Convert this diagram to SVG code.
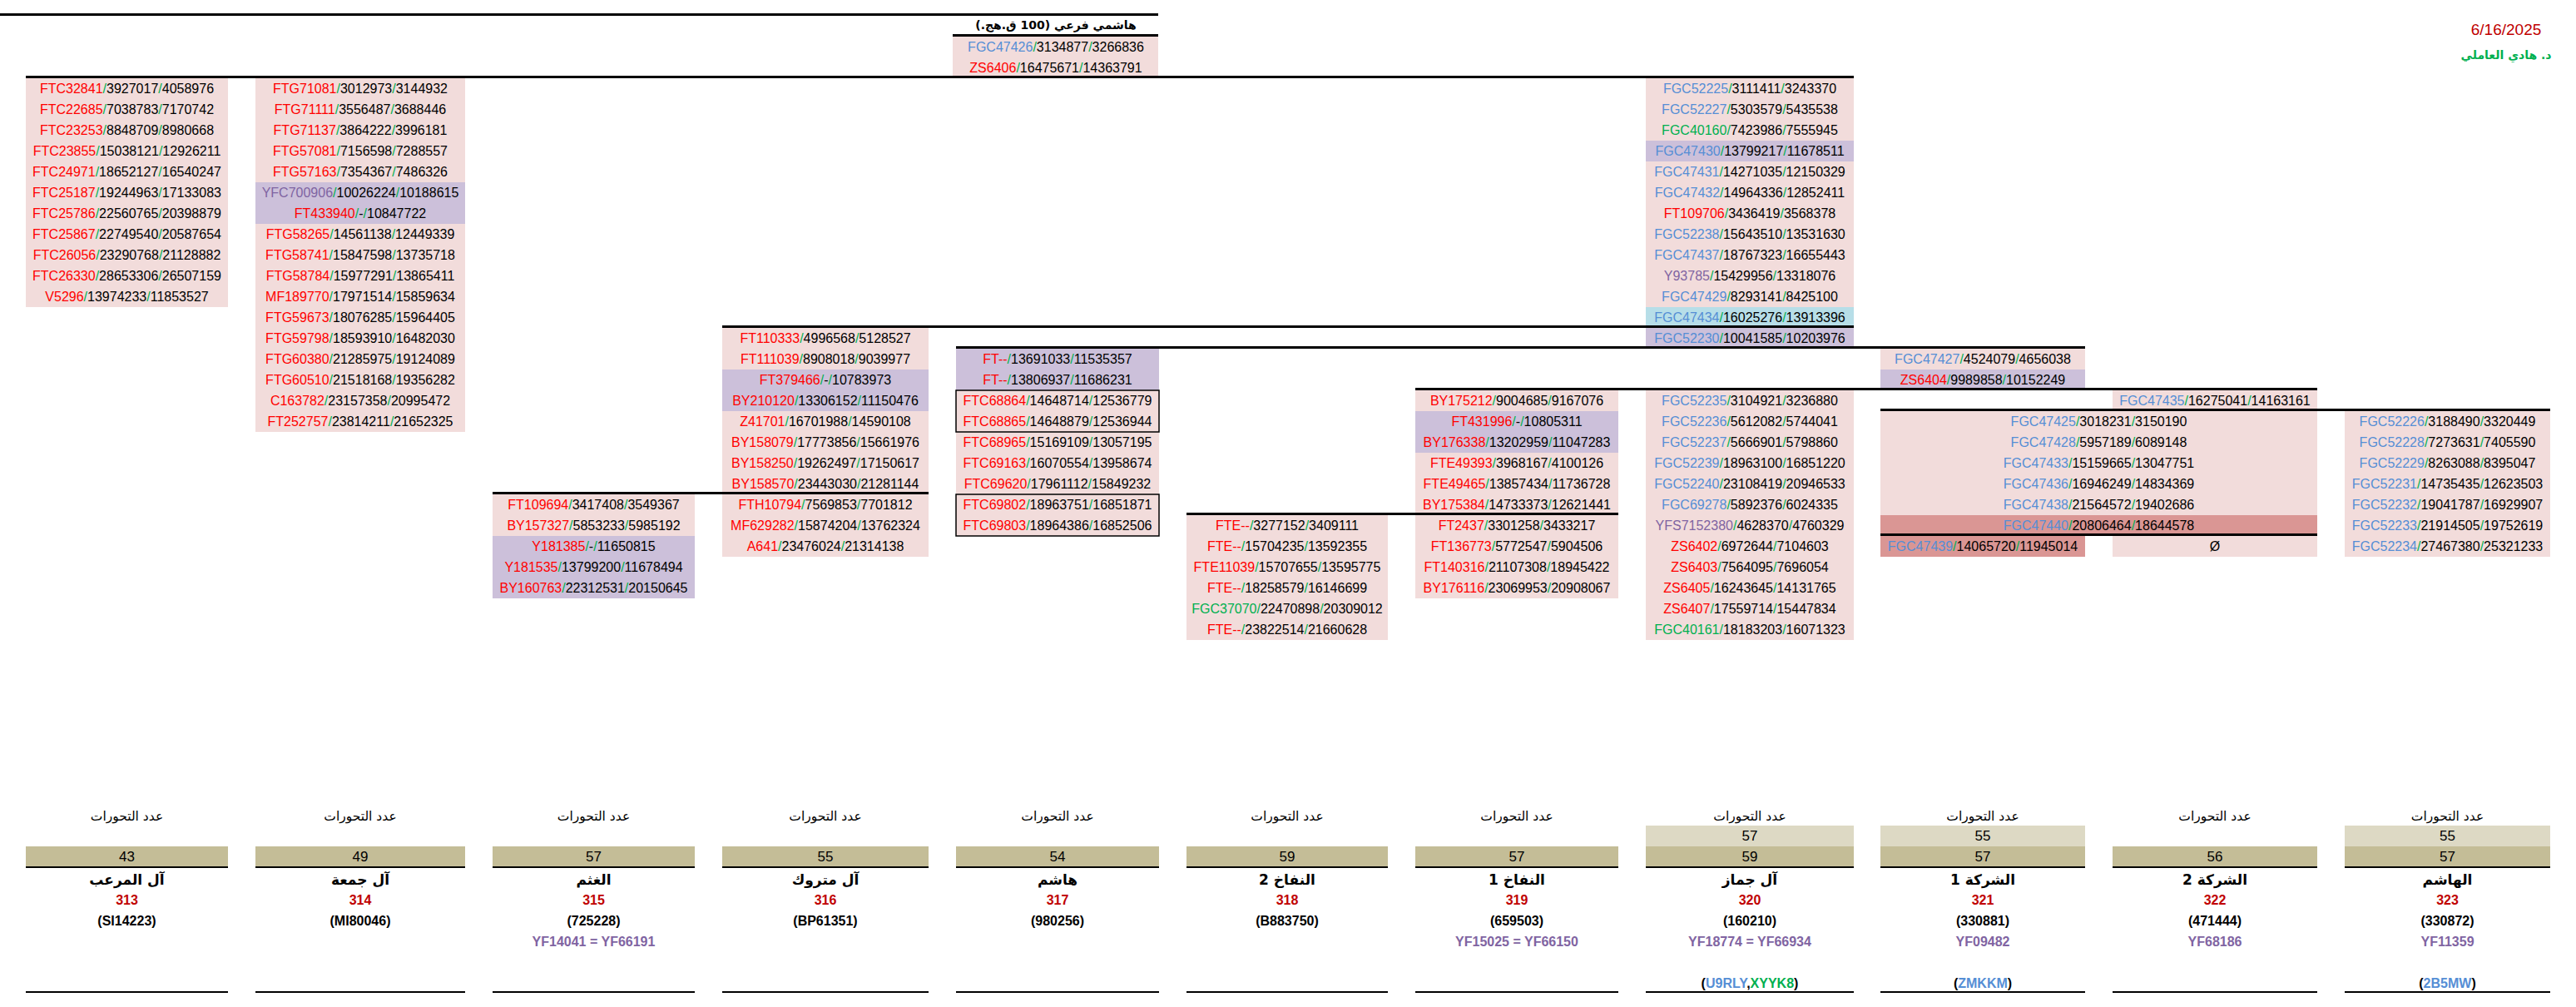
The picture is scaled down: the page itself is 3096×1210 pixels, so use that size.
<svg xmlns="http://www.w3.org/2000/svg" width="3096" height="1210" viewBox="0 0 3096 1210">
<style>
.bg{fill:#FFFFFF}
.p{fill:#F2DCDB}.u{fill:#CCC0DA}.c{fill:#B7DEE8}.d{fill:#DA9694}.t{fill:#C4BD97}.l{fill:#DDD9C4}
.r{font-family:"Liberation Sans",Arial,sans-serif;font-size:16px;text-anchor:middle;fill:#000}
.ln{stroke:#000;stroke-width:3;fill:none}
.bl{stroke:#000;stroke-width:2;fill:none}
.ob{fill:none;stroke:#000;stroke-width:1.5}
.ar{font-family:"DejaVu Sans",sans-serif;text-anchor:middle;direction:rtl;fill:#000}
.cnt{font-size:15.5px}
.nm{font-size:17px;font-weight:bold}
.num{font-family:"Liberation Sans",Arial,sans-serif;font-size:17px;text-anchor:middle;fill:#000}
.bn{font-family:"Liberation Sans",Arial,sans-serif;font-size:16px;font-weight:bold;text-anchor:middle;fill:#000}
.R{fill:#FF0000}.G{fill:#00B050}.B{fill:#558ED5}.V{fill:#8064A2}
.bn.V{fill:#8064A2}.bn.dr{fill:#C00000}
</style>
<rect class="bg" x="0" y="0" width="3096" height="1210"/>

<g id="header-hashimi">
<text class="ar" x="1269" y="35" style="font-size:14px;font-weight:bold">هاشمي فرعي (100 ق.هج.)</text>
<rect class="p" x="1145" y="44" width="247" height="50"/>
<text class="r" x="1269" y="62"><tspan class="B">FGC47426</tspan><tspan class="G">/</tspan>3134877<tspan class="G">/</tspan>3266836</text>
<text class="r" x="1269" y="87"><tspan class="R">ZS6406</tspan><tspan class="G">/</tspan>16475671<tspan class="G">/</tspan>14363791</text>
</g>

<g id="author">
<text x="3012" y="42" style="font-family:'Liberation Sans',Arial,sans-serif;font-size:19px;fill:#C00000;text-anchor:middle">6/16/2025</text>
<text class="ar" x="3012" y="71" style="font-size:14px;font-weight:bold;fill:#00B050">د. هادي العاملي</text>
</g>

<g id="col1">
<rect class="p" x="31" y="94" width="243" height="275"/>
<text class="r" x="152.5" y="112"><tspan class="R">FTC32841</tspan><tspan class="G">/</tspan>3927017<tspan class="G">/</tspan>4058976</text>
<text class="r" x="152.5" y="137"><tspan class="R">FTC22685</tspan><tspan class="G">/</tspan>7038783<tspan class="G">/</tspan>7170742</text>
<text class="r" x="152.5" y="162"><tspan class="R">FTC23253</tspan><tspan class="G">/</tspan>8848709<tspan class="G">/</tspan>8980668</text>
<text class="r" x="152.5" y="187"><tspan class="R">FTC23855</tspan><tspan class="G">/</tspan>15038121<tspan class="G">/</tspan>12926211</text>
<text class="r" x="152.5" y="212"><tspan class="R">FTC24971</tspan><tspan class="G">/</tspan>18652127<tspan class="G">/</tspan>16540247</text>
<text class="r" x="152.5" y="237"><tspan class="R">FTC25187</tspan><tspan class="G">/</tspan>19244963<tspan class="G">/</tspan>17133083</text>
<text class="r" x="152.5" y="262"><tspan class="R">FTC25786</tspan><tspan class="G">/</tspan>22560765<tspan class="G">/</tspan>20398879</text>
<text class="r" x="152.5" y="287"><tspan class="R">FTC25867</tspan><tspan class="G">/</tspan>22749540<tspan class="G">/</tspan>20587654</text>
<text class="r" x="152.5" y="312"><tspan class="R">FTC26056</tspan><tspan class="G">/</tspan>23290768<tspan class="G">/</tspan>21128882</text>
<text class="r" x="152.5" y="337"><tspan class="R">FTC26330</tspan><tspan class="G">/</tspan>28653306<tspan class="G">/</tspan>26507159</text>
<text class="r" x="152.5" y="362"><tspan class="R">V5296</tspan><tspan class="G">/</tspan>13974233<tspan class="G">/</tspan>11853527</text>
</g>

<g id="col2">
<rect class="p" x="307" y="94" width="252" height="425"/>
<rect class="u" x="307" y="219" width="252" height="50"/>
<text class="r" x="433" y="112"><tspan class="R">FTG71081</tspan><tspan class="G">/</tspan>3012973<tspan class="G">/</tspan>3144932</text>
<text class="r" x="433" y="137"><tspan class="R">FTG71111</tspan><tspan class="G">/</tspan>3556487<tspan class="G">/</tspan>3688446</text>
<text class="r" x="433" y="162"><tspan class="R">FTG71137</tspan><tspan class="G">/</tspan>3864222<tspan class="G">/</tspan>3996181</text>
<text class="r" x="433" y="187"><tspan class="R">FTG57081</tspan><tspan class="G">/</tspan>7156598<tspan class="G">/</tspan>7288557</text>
<text class="r" x="433" y="212"><tspan class="R">FTG57163</tspan><tspan class="G">/</tspan>7354367<tspan class="G">/</tspan>7486326</text>
<text class="r" x="433" y="237"><tspan class="V">YFC700906</tspan><tspan class="G">/</tspan>10026224<tspan class="G">/</tspan>10188615</text>
<text class="r" x="433" y="262"><tspan class="R">FT433940</tspan><tspan class="G">/</tspan>-<tspan class="G">/</tspan>10847722</text>
<text class="r" x="433" y="287"><tspan class="R">FTG58265</tspan><tspan class="G">/</tspan>14561138<tspan class="G">/</tspan>12449339</text>
<text class="r" x="433" y="312"><tspan class="R">FTG58741</tspan><tspan class="G">/</tspan>15847598<tspan class="G">/</tspan>13735718</text>
<text class="r" x="433" y="337"><tspan class="R">FTG58784</tspan><tspan class="G">/</tspan>15977291<tspan class="G">/</tspan>13865411</text>
<text class="r" x="433" y="362"><tspan class="R">MF189770</tspan><tspan class="G">/</tspan>17971514<tspan class="G">/</tspan>15859634</text>
<text class="r" x="433" y="387"><tspan class="R">FTG59673</tspan><tspan class="G">/</tspan>18076285<tspan class="G">/</tspan>15964405</text>
<text class="r" x="433" y="412"><tspan class="R">FTG59798</tspan><tspan class="G">/</tspan>18593910<tspan class="G">/</tspan>16482030</text>
<text class="r" x="433" y="437"><tspan class="R">FTG60380</tspan><tspan class="G">/</tspan>21285975<tspan class="G">/</tspan>19124089</text>
<text class="r" x="433" y="462"><tspan class="R">FTG60510</tspan><tspan class="G">/</tspan>21518168<tspan class="G">/</tspan>19356282</text>
<text class="r" x="433" y="487"><tspan class="R">C163782</tspan><tspan class="G">/</tspan>23157358<tspan class="G">/</tspan>20995472</text>
<text class="r" x="433" y="512"><tspan class="R">FT252757</tspan><tspan class="G">/</tspan>23814211<tspan class="G">/</tspan>21652325</text>
</g>

<g id="col3">
<rect class="p" x="592" y="594" width="243" height="50"/>
<rect class="u" x="592" y="644" width="243" height="75"/>
<text class="r" x="713.5" y="612"><tspan class="R">FT109694</tspan><tspan class="G">/</tspan>3417408<tspan class="G">/</tspan>3549367</text>
<text class="r" x="713.5" y="637"><tspan class="R">BY157327</tspan><tspan class="G">/</tspan>5853233<tspan class="G">/</tspan>5985192</text>
<text class="r" x="713.5" y="662"><tspan class="R">Y181385</tspan><tspan class="G">/</tspan>-<tspan class="G">/</tspan>11650815</text>
<text class="r" x="713.5" y="687"><tspan class="R">Y181535</tspan><tspan class="G">/</tspan>13799200<tspan class="G">/</tspan>11678494</text>
<text class="r" x="713.5" y="712"><tspan class="R">BY160763</tspan><tspan class="G">/</tspan>22312531<tspan class="G">/</tspan>20150645</text>
</g>

<g id="col4">
<rect class="p" x="868" y="394" width="248" height="275"/>
<rect class="u" x="868" y="444" width="248" height="50"/>
<text class="r" x="992" y="412"><tspan class="R">FT110333</tspan><tspan class="G">/</tspan>4996568<tspan class="G">/</tspan>5128527</text>
<text class="r" x="992" y="437"><tspan class="R">FT111039</tspan><tspan class="G">/</tspan>8908018<tspan class="G">/</tspan>9039977</text>
<text class="r" x="992" y="462"><tspan class="R">FT379466</tspan><tspan class="G">/</tspan>-<tspan class="G">/</tspan>10783973</text>
<text class="r" x="992" y="487"><tspan class="R">BY210120</tspan><tspan class="G">/</tspan>13306152<tspan class="G">/</tspan>11150476</text>
<text class="r" x="992" y="512"><tspan class="R">Z41701</tspan><tspan class="G">/</tspan>16701988<tspan class="G">/</tspan>14590108</text>
<text class="r" x="992" y="537"><tspan class="R">BY158079</tspan><tspan class="G">/</tspan>17773856<tspan class="G">/</tspan>15661976</text>
<text class="r" x="992" y="562"><tspan class="R">BY158250</tspan><tspan class="G">/</tspan>19262497<tspan class="G">/</tspan>17150617</text>
<text class="r" x="992" y="587"><tspan class="R">BY158570</tspan><tspan class="G">/</tspan>23443030<tspan class="G">/</tspan>21281144</text>
<text class="r" x="992" y="612"><tspan class="R">FTH10794</tspan><tspan class="G">/</tspan>7569853<tspan class="G">/</tspan>7701812</text>
<text class="r" x="992" y="637"><tspan class="R">MF629282</tspan><tspan class="G">/</tspan>15874204<tspan class="G">/</tspan>13762324</text>
<text class="r" x="992" y="662"><tspan class="R">A641</tspan><tspan class="G">/</tspan>23476024<tspan class="G">/</tspan>21314138</text>
</g>

<g id="col5">
<rect class="p" x="1149" y="419" width="244" height="225"/>
<rect class="u" x="1149" y="419" width="244" height="50"/>
<rect class="ob" x="1149" y="469" width="244" height="50"/>
<rect class="ob" x="1149" y="594" width="244" height="50"/>
<text class="r" x="1271" y="437"><tspan class="R">FT--</tspan><tspan class="G">/</tspan>13691033<tspan class="G">/</tspan>11535357</text>
<text class="r" x="1271" y="462"><tspan class="R">FT--</tspan><tspan class="G">/</tspan>13806937<tspan class="G">/</tspan>11686231</text>
<text class="r" x="1271" y="487"><tspan class="R">FTC68864</tspan><tspan class="G">/</tspan>14648714<tspan class="G">/</tspan>12536779</text>
<text class="r" x="1271" y="512"><tspan class="R">FTC68865</tspan><tspan class="G">/</tspan>14648879<tspan class="G">/</tspan>12536944</text>
<text class="r" x="1271" y="537"><tspan class="R">FTC68965</tspan><tspan class="G">/</tspan>15169109<tspan class="G">/</tspan>13057195</text>
<text class="r" x="1271" y="562"><tspan class="R">FTC69163</tspan><tspan class="G">/</tspan>16070554<tspan class="G">/</tspan>13958674</text>
<text class="r" x="1271" y="587"><tspan class="R">FTC69620</tspan><tspan class="G">/</tspan>17961112<tspan class="G">/</tspan>15849232</text>
<text class="r" x="1271" y="612"><tspan class="R">FTC69802</tspan><tspan class="G">/</tspan>18963751<tspan class="G">/</tspan>16851871</text>
<text class="r" x="1271" y="637"><tspan class="R">FTC69803</tspan><tspan class="G">/</tspan>18964386<tspan class="G">/</tspan>16852506</text>
</g>

<g id="col6">
<rect class="p" x="1426" y="619" width="242" height="150"/>
<text class="r" x="1547" y="637"><tspan class="R">FTE--</tspan><tspan class="G">/</tspan>3277152<tspan class="G">/</tspan>3409111</text>
<text class="r" x="1547" y="662"><tspan class="R">FTE--</tspan><tspan class="G">/</tspan>15704235<tspan class="G">/</tspan>13592355</text>
<text class="r" x="1547" y="687"><tspan class="R">FTE11039</tspan><tspan class="G">/</tspan>15707655<tspan class="G">/</tspan>13595775</text>
<text class="r" x="1547" y="712"><tspan class="R">FTE--</tspan><tspan class="G">/</tspan>18258579<tspan class="G">/</tspan>16146699</text>
<text class="r" x="1547" y="737"><tspan class="G">FGC37070</tspan><tspan class="G">/</tspan>22470898<tspan class="G">/</tspan>20309012</text>
<text class="r" x="1547" y="762"><tspan class="R">FTE--</tspan><tspan class="G">/</tspan>23822514<tspan class="G">/</tspan>21660628</text>
</g>

<g id="col7">
<rect class="p" x="1701" y="469" width="244" height="250"/>
<rect class="u" x="1701" y="494" width="244" height="50"/>
<text class="r" x="1823" y="487"><tspan class="R">BY175212</tspan><tspan class="G">/</tspan>9004685<tspan class="G">/</tspan>9167076</text>
<text class="r" x="1823" y="512"><tspan class="R">FT431996</tspan><tspan class="G">/</tspan>-<tspan class="G">/</tspan>10805311</text>
<text class="r" x="1823" y="537"><tspan class="R">BY176338</tspan><tspan class="G">/</tspan>13202959<tspan class="G">/</tspan>11047283</text>
<text class="r" x="1823" y="562"><tspan class="R">FTE49393</tspan><tspan class="G">/</tspan>3968167<tspan class="G">/</tspan>4100126</text>
<text class="r" x="1823" y="587"><tspan class="R">FTE49465</tspan><tspan class="G">/</tspan>13857434<tspan class="G">/</tspan>11736728</text>
<text class="r" x="1823" y="612"><tspan class="R">BY175384</tspan><tspan class="G">/</tspan>14733373<tspan class="G">/</tspan>12621441</text>
<text class="r" x="1823" y="637"><tspan class="R">FT2437</tspan><tspan class="G">/</tspan>3301258<tspan class="G">/</tspan>3433217</text>
<text class="r" x="1823" y="662"><tspan class="R">FT136773</tspan><tspan class="G">/</tspan>5772547<tspan class="G">/</tspan>5904506</text>
<text class="r" x="1823" y="687"><tspan class="R">FT140316</tspan><tspan class="G">/</tspan>21107308<tspan class="G">/</tspan>18945422</text>
<text class="r" x="1823" y="712"><tspan class="R">BY176116</tspan><tspan class="G">/</tspan>23069953<tspan class="G">/</tspan>20908067</text>
</g>

<g id="col8-upper">
<rect class="p" x="1978" y="94" width="250" height="300"/>
<rect class="u" x="1978" y="169" width="250" height="25"/>
<rect class="c" x="1978" y="369" width="250" height="25"/>
<text class="r" x="2103" y="112"><tspan class="B">FGC52225</tspan><tspan class="G">/</tspan>3111411<tspan class="G">/</tspan>3243370</text>
<text class="r" x="2103" y="137"><tspan class="B">FGC52227</tspan><tspan class="G">/</tspan>5303579<tspan class="G">/</tspan>5435538</text>
<text class="r" x="2103" y="162"><tspan class="G">FGC40160</tspan><tspan class="G">/</tspan>7423986<tspan class="G">/</tspan>7555945</text>
<text class="r" x="2103" y="187"><tspan class="B">FGC47430</tspan><tspan class="G">/</tspan>13799217<tspan class="G">/</tspan>11678511</text>
<text class="r" x="2103" y="212"><tspan class="B">FGC47431</tspan><tspan class="G">/</tspan>14271035<tspan class="G">/</tspan>12150329</text>
<text class="r" x="2103" y="237"><tspan class="B">FGC47432</tspan><tspan class="G">/</tspan>14964336<tspan class="G">/</tspan>12852411</text>
<text class="r" x="2103" y="262"><tspan class="R">FT109706</tspan><tspan class="G">/</tspan>3436419<tspan class="G">/</tspan>3568378</text>
<text class="r" x="2103" y="287"><tspan class="B">FGC52238</tspan><tspan class="G">/</tspan>15643510<tspan class="G">/</tspan>13531630</text>
<text class="r" x="2103" y="312"><tspan class="B">FGC47437</tspan><tspan class="G">/</tspan>18767323<tspan class="G">/</tspan>16655443</text>
<text class="r" x="2103" y="337"><tspan class="V">Y93785</tspan><tspan class="G">/</tspan>15429956<tspan class="G">/</tspan>13318076</text>
<text class="r" x="2103" y="362"><tspan class="B">FGC47429</tspan><tspan class="G">/</tspan>8293141<tspan class="G">/</tspan>8425100</text>
<text class="r" x="2103" y="387"><tspan class="B">FGC47434</tspan><tspan class="G">/</tspan>16025276<tspan class="G">/</tspan>13913396</text>
</g>

<g id="col8-fgc52230">
<rect class="u" x="1978" y="394" width="250" height="25"/>
<text class="r" x="2103" y="412"><tspan class="B">FGC52230</tspan><tspan class="G">/</tspan>10041585<tspan class="G">/</tspan>10203976</text>
</g>

<g id="col8-lower">
<rect class="p" x="1978" y="469" width="250" height="300"/>
<text class="r" x="2103" y="487"><tspan class="B">FGC52235</tspan><tspan class="G">/</tspan>3104921<tspan class="G">/</tspan>3236880</text>
<text class="r" x="2103" y="512"><tspan class="B">FGC52236</tspan><tspan class="G">/</tspan>5612082<tspan class="G">/</tspan>5744041</text>
<text class="r" x="2103" y="537"><tspan class="B">FGC52237</tspan><tspan class="G">/</tspan>5666901<tspan class="G">/</tspan>5798860</text>
<text class="r" x="2103" y="562"><tspan class="B">FGC52239</tspan><tspan class="G">/</tspan>18963100<tspan class="G">/</tspan>16851220</text>
<text class="r" x="2103" y="587"><tspan class="B">FGC52240</tspan><tspan class="G">/</tspan>23108419<tspan class="G">/</tspan>20946533</text>
<text class="r" x="2103" y="612"><tspan class="B">FGC69278</tspan><tspan class="G">/</tspan>5892376<tspan class="G">/</tspan>6024335</text>
<text class="r" x="2103" y="637"><tspan class="V">YFS7152380</tspan><tspan class="G">/</tspan>4628370<tspan class="G">/</tspan>4760329</text>
<text class="r" x="2103" y="662"><tspan class="R">ZS6402</tspan><tspan class="G">/</tspan>6972644<tspan class="G">/</tspan>7104603</text>
<text class="r" x="2103" y="687"><tspan class="R">ZS6403</tspan><tspan class="G">/</tspan>7564095<tspan class="G">/</tspan>7696054</text>
<text class="r" x="2103" y="712"><tspan class="R">ZS6405</tspan><tspan class="G">/</tspan>16243645<tspan class="G">/</tspan>14131765</text>
<text class="r" x="2103" y="737"><tspan class="R">ZS6407</tspan><tspan class="G">/</tspan>17559714<tspan class="G">/</tspan>15447834</text>
<text class="r" x="2103" y="762"><tspan class="G">FGC40161</tspan><tspan class="G">/</tspan>18183203<tspan class="G">/</tspan>16071323</text>
</g>

<g id="col9-upper">
<rect class="p" x="2260" y="419" width="246" height="25"/>
<rect class="u" x="2260" y="444" width="246" height="25"/>
<text class="r" x="2383" y="437"><tspan class="B">FGC47427</tspan><tspan class="G">/</tspan>4524079<tspan class="G">/</tspan>4656038</text>
<text class="r" x="2383" y="462"><tspan class="R">ZS6404</tspan><tspan class="G">/</tspan>9989858<tspan class="G">/</tspan>10152249</text>
</g>

<g id="fgc47435">
<rect class="p" x="2539" y="469" width="246" height="25"/>
<text class="r" x="2662" y="487"><tspan class="B">FGC47435</tspan><tspan class="G">/</tspan>16275041<tspan class="G">/</tspan>14163161</text>
</g>

<g id="fgc47425-block">
<rect class="p" x="2260" y="494" width="525" height="125"/>
<rect class="d" x="2260" y="619" width="525" height="25"/>
<text class="r" x="2522.5" y="512"><tspan class="B">FGC47425</tspan><tspan class="G">/</tspan>3018231<tspan class="G">/</tspan>3150190</text>
<text class="r" x="2522.5" y="537"><tspan class="B">FGC47428</tspan><tspan class="G">/</tspan>5957189<tspan class="G">/</tspan>6089148</text>
<text class="r" x="2522.5" y="562"><tspan class="B">FGC47433</tspan><tspan class="G">/</tspan>15159665<tspan class="G">/</tspan>13047751</text>
<text class="r" x="2522.5" y="587"><tspan class="B">FGC47436</tspan><tspan class="G">/</tspan>16946249<tspan class="G">/</tspan>14834369</text>
<text class="r" x="2522.5" y="612"><tspan class="B">FGC47438</tspan><tspan class="G">/</tspan>21564572<tspan class="G">/</tspan>19402686</text>
<text class="r" x="2522.5" y="637"><tspan class="B">FGC47440</tspan><tspan class="G">/</tspan>20806464<tspan class="G">/</tspan>18644578</text>
</g>

<g id="fgc47439">
<rect class="d" x="2260" y="644" width="246" height="25"/>
<text class="r" x="2383" y="662"><tspan class="B">FGC47439</tspan><tspan class="G">/</tspan>14065720<tspan class="G">/</tspan>11945014</text>
</g>

<g id="empty-branch">
<rect class="p" x="2539" y="644" width="246" height="25"/>
<text class="r" x="2662" y="662">Ø</text>
</g>

<g id="col11">
<rect class="p" x="2818" y="494" width="247" height="175"/>
<text class="r" x="2941.5" y="512"><tspan class="B">FGC52226</tspan><tspan class="G">/</tspan>3188490<tspan class="G">/</tspan>3320449</text>
<text class="r" x="2941.5" y="537"><tspan class="B">FGC52228</tspan><tspan class="G">/</tspan>7273631<tspan class="G">/</tspan>7405590</text>
<text class="r" x="2941.5" y="562"><tspan class="B">FGC52229</tspan><tspan class="G">/</tspan>8263088<tspan class="G">/</tspan>8395047</text>
<text class="r" x="2941.5" y="587"><tspan class="B">FGC52231</tspan><tspan class="G">/</tspan>14735435<tspan class="G">/</tspan>12623503</text>
<text class="r" x="2941.5" y="612"><tspan class="B">FGC52232</tspan><tspan class="G">/</tspan>19041787<tspan class="G">/</tspan>16929907</text>
<text class="r" x="2941.5" y="637"><tspan class="B">FGC52233</tspan><tspan class="G">/</tspan>21914505<tspan class="G">/</tspan>19752619</text>
<text class="r" x="2941.5" y="662"><tspan class="B">FGC52234</tspan><tspan class="G">/</tspan>27467380<tspan class="G">/</tspan>25321233</text>
</g>

<g id="connectors">
<line class="ln" x1="0" y1="17.5" x2="1392" y2="17.5"/>
<line class="ln" x1="1145" y1="42.5" x2="1392" y2="42.5"/>
<line class="ln" x1="31" y1="92.5" x2="2228" y2="92.5"/>
<line class="ln" x1="868" y1="392.5" x2="2228" y2="392.5"/>
<line class="ln" x1="1149" y1="417.5" x2="2506" y2="417.5"/>
<line class="ln" x1="1701" y1="467.5" x2="2785" y2="467.5"/>
<line class="ln" x1="2260" y1="492.5" x2="3065" y2="492.5"/>
<line class="ln" x1="592" y1="592.5" x2="1116" y2="592.5"/>
<line class="ln" x1="1426" y1="617.5" x2="1945" y2="617.5"/>
<line class="ln" x1="2260" y1="642.5" x2="2785" y2="642.5"/>
</g>

<g id="summary-313">
<text class="ar cnt" x="152.5" y="986">عدد التحورات</text>
<rect class="t" x="31" y="1017" width="243" height="25"/>
<text class="num" x="152.5" y="1035">43</text>
<line class="bl" x1="31" y1="1042" x2="274" y2="1042"/>
<text class="ar nm" x="152.5" y="1063">آل المرعب</text>
<text class="bn dr" x="152.5" y="1087">313</text>
<text class="bn" x="152.5" y="1112">(SI14223)</text>
<line class="bl" x1="31" y1="1192" x2="274" y2="1192"/>
</g>
<g id="summary-314">
<text class="ar cnt" x="433" y="986">عدد التحورات</text>
<rect class="t" x="307" y="1017" width="252" height="25"/>
<text class="num" x="433" y="1035">49</text>
<line class="bl" x1="307" y1="1042" x2="559" y2="1042"/>
<text class="ar nm" x="433" y="1063">آل جمعة</text>
<text class="bn dr" x="433" y="1087">314</text>
<text class="bn" x="433" y="1112">(MI80046)</text>
<line class="bl" x1="307" y1="1192" x2="559" y2="1192"/>
</g>
<g id="summary-315">
<text class="ar cnt" x="713.5" y="986">عدد التحورات</text>
<rect class="t" x="592" y="1017" width="243" height="25"/>
<text class="num" x="713.5" y="1035">57</text>
<line class="bl" x1="592" y1="1042" x2="835" y2="1042"/>
<text class="ar nm" x="713.5" y="1063">الغثم</text>
<text class="bn dr" x="713.5" y="1087">315</text>
<text class="bn" x="713.5" y="1112">(725228)</text>
<text class="bn V" x="713.5" y="1137">YF14041 = YF66191</text>
<line class="bl" x1="592" y1="1192" x2="835" y2="1192"/>
</g>
<g id="summary-316">
<text class="ar cnt" x="992" y="986">عدد التحورات</text>
<rect class="t" x="868" y="1017" width="248" height="25"/>
<text class="num" x="992" y="1035">55</text>
<line class="bl" x1="868" y1="1042" x2="1116" y2="1042"/>
<text class="ar nm" x="992" y="1063">آل متروك</text>
<text class="bn dr" x="992" y="1087">316</text>
<text class="bn" x="992" y="1112">(BP61351)</text>
<line class="bl" x1="868" y1="1192" x2="1116" y2="1192"/>
</g>
<g id="summary-317">
<text class="ar cnt" x="1271" y="986">عدد التحورات</text>
<rect class="t" x="1149" y="1017" width="244" height="25"/>
<text class="num" x="1271" y="1035">54</text>
<line class="bl" x1="1149" y1="1042" x2="1393" y2="1042"/>
<text class="ar nm" x="1271" y="1063">هاشم</text>
<text class="bn dr" x="1271" y="1087">317</text>
<text class="bn" x="1271" y="1112">(980256)</text>
<line class="bl" x1="1149" y1="1192" x2="1393" y2="1192"/>
</g>
<g id="summary-318">
<text class="ar cnt" x="1547" y="986">عدد التحورات</text>
<rect class="t" x="1426" y="1017" width="242" height="25"/>
<text class="num" x="1547" y="1035">59</text>
<line class="bl" x1="1426" y1="1042" x2="1668" y2="1042"/>
<text class="ar nm" x="1547" y="1063">النفاخ 2</text>
<text class="bn dr" x="1547" y="1087">318</text>
<text class="bn" x="1547" y="1112">(B883750)</text>
<line class="bl" x1="1426" y1="1192" x2="1668" y2="1192"/>
</g>
<g id="summary-319">
<text class="ar cnt" x="1823" y="986">عدد التحورات</text>
<rect class="t" x="1701" y="1017" width="244" height="25"/>
<text class="num" x="1823" y="1035">57</text>
<line class="bl" x1="1701" y1="1042" x2="1945" y2="1042"/>
<text class="ar nm" x="1823" y="1063">النفاخ 1</text>
<text class="bn dr" x="1823" y="1087">319</text>
<text class="bn" x="1823" y="1112">(659503)</text>
<text class="bn V" x="1823" y="1137">YF15025 = YF66150</text>
<line class="bl" x1="1701" y1="1192" x2="1945" y2="1192"/>
</g>
<g id="summary-320">
<text class="ar cnt" x="2103" y="986">عدد التحورات</text>
<rect class="l" x="1978" y="992" width="250" height="25"/>
<text class="num" x="2103" y="1010">57</text>
<rect class="t" x="1978" y="1017" width="250" height="25"/>
<text class="num" x="2103" y="1035">59</text>
<line class="bl" x1="1978" y1="1042" x2="2228" y2="1042"/>
<text class="ar nm" x="2103" y="1063">آل جماز</text>
<text class="bn dr" x="2103" y="1087">320</text>
<text class="bn" x="2103" y="1112">(160210)</text>
<text class="bn V" x="2103" y="1137">YF18774 = YF66934</text>
<text class="bn" x="2103" y="1187">(<tspan class="B">U9RLY</tspan>,<tspan class="G">XYYK8</tspan>)</text>
<line class="bl" x1="1978" y1="1192" x2="2228" y2="1192"/>
</g>
<g id="summary-321">
<text class="ar cnt" x="2383" y="986">عدد التحورات</text>
<rect class="l" x="2260" y="992" width="246" height="25"/>
<text class="num" x="2383" y="1010">55</text>
<rect class="t" x="2260" y="1017" width="246" height="25"/>
<text class="num" x="2383" y="1035">57</text>
<line class="bl" x1="2260" y1="1042" x2="2506" y2="1042"/>
<text class="ar nm" x="2383" y="1063">الشركة 1</text>
<text class="bn dr" x="2383" y="1087">321</text>
<text class="bn" x="2383" y="1112">(330881)</text>
<text class="bn V" x="2383" y="1137">YF09482</text>
<text class="bn" x="2383" y="1187">(<tspan class="B">ZMKKM</tspan>)</text>
<line class="bl" x1="2260" y1="1192" x2="2506" y2="1192"/>
</g>
<g id="summary-322">
<text class="ar cnt" x="2662" y="986">عدد التحورات</text>
<rect class="t" x="2539" y="1017" width="246" height="25"/>
<text class="num" x="2662" y="1035">56</text>
<line class="bl" x1="2539" y1="1042" x2="2785" y2="1042"/>
<text class="ar nm" x="2662" y="1063">الشركة 2</text>
<text class="bn dr" x="2662" y="1087">322</text>
<text class="bn" x="2662" y="1112">(471444)</text>
<text class="bn V" x="2662" y="1137">YF68186</text>
<line class="bl" x1="2539" y1="1192" x2="2785" y2="1192"/>
</g>
<g id="summary-323">
<text class="ar cnt" x="2941.5" y="986">عدد التحورات</text>
<rect class="l" x="2818" y="992" width="247" height="25"/>
<text class="num" x="2941.5" y="1010">55</text>
<rect class="t" x="2818" y="1017" width="247" height="25"/>
<text class="num" x="2941.5" y="1035">57</text>
<line class="bl" x1="2818" y1="1042" x2="3065" y2="1042"/>
<text class="ar nm" x="2941.5" y="1063">الهاشم</text>
<text class="bn dr" x="2941.5" y="1087">323</text>
<text class="bn" x="2941.5" y="1112">(330872)</text>
<text class="bn V" x="2941.5" y="1137">YF11359</text>
<text class="bn" x="2941.5" y="1187">(<tspan class="B">2B5MW</tspan>)</text>
<line class="bl" x1="2818" y1="1192" x2="3065" y2="1192"/>
</g>
</svg>
